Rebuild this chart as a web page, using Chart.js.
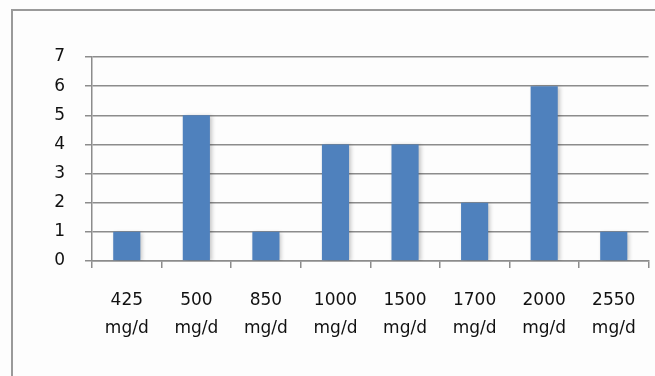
<!DOCTYPE html>
<html>
<head>
<meta charset="utf-8">
<script src="https://cdn.jsdelivr.net/npm/chart.js@4/dist/chart.umd.min.js"></script>
<style>
  html, body { margin: 0; padding: 0; background: #fdfdfd; }
  #wrap { width: 655px; height: 376px; }
</style>
</head>
<body>
<div id="wrap"><canvas id="chart" width="655" height="376"></canvas></div>
<script>
// doses on the x axis, two lines each
const doses = ['425', '500', '850', '1000', '1500', '1700', '2000', '2550'];
const unit = 'mg/d';
// number of patients per dose
const counts = [1, 5, 1, 4, 4, 2, 6, 1];
const yTicks = [0, 1, 2, 3, 4, 5, 6, 7];

const labels = doses.map(d => [d, unit]);

// Outer frame like the pasted Excel chart (only left and top edges show).
const framePlugin = {
  id: 'frame',
  beforeDraw: (chart) => {
    const { ctx, width, height } = chart;
    ctx.save();
    ctx.fillStyle = '#fdfdfd';
    ctx.fillRect(0, 0, width, height);
    ctx.strokeStyle = '#9a9a9a';
    ctx.lineWidth = 2;
    ctx.beginPath();
    ctx.moveTo(12, height);
    ctx.lineTo(12, 10);
    ctx.lineTo(width, 10);
    ctx.stroke();
    ctx.restore();
  }
};

// Soft drop shadow behind the bars.
const barShadowPlugin = {
  id: 'barShadow',
  beforeDatasetsDraw: (chart) => {
    const ctx = chart.ctx;
    ctx.save();
    ctx.shadowColor = 'rgba(0, 0, 0, 0.22)';
    ctx.shadowBlur = 4;
    ctx.shadowOffsetX = 2;
    ctx.shadowOffsetY = 1;
  },
  afterDatasetsDraw: (chart) => {
    chart.ctx.restore();
  }
};

const tickFont = { family: '"DejaVu Sans", sans-serif', size: 17, lineHeight: 1.65 };

new Chart(document.getElementById('chart').getContext('2d'), {
  type: 'bar',
  data: {
    labels,
    datasets: [{
      data: counts,
      backgroundColor: '#4f81bd',
      borderWidth: 0,
      categoryPercentage: 1,
      barPercentage: 0.39
    }]
  },
  options: {
    responsive: false,
    animation: false,
    layout: { padding: { top: 57, right: 5, left: 0, bottom: 0 } },
    plugins: { legend: { display: false }, tooltip: { enabled: false } },
    scales: {
      x: {
        offset: true,
        grid: {
          offset: true,
          drawOnChartArea: false,
          drawTicks: true,
          tickLength: 7,
          color: '#8c8c8c',
          lineWidth: 1.5
        },
        border: { color: '#8c8c8c', width: 1.5 },
        ticks: {
          color: '#111',
          font: tickFont,
          padding: 19,
          maxRotation: 0,
          autoSkip: false
        },
        afterFit: (scale) => { scale.height = 115; }
      },
      y: {
        min: 0,
        max: 7,
        afterBuildTicks: (scale) => { scale.ticks = yTicks.map(v => ({ value: v })); },
        grid: {
          color: '#8c8c8c',
          lineWidth: 1.5,
          tickLength: 7
        },
        border: { color: '#8c8c8c', width: 1.5 },
        ticks: {
          color: '#111',
          font: { family: '"DejaVu Sans", sans-serif', size: 17 },
          padding: 20
        },
        afterFit: (scale) => { scale.width = 92; }
      }
    }
  },
  plugins: [framePlugin, barShadowPlugin]
});
</script>
</body>
</html>
